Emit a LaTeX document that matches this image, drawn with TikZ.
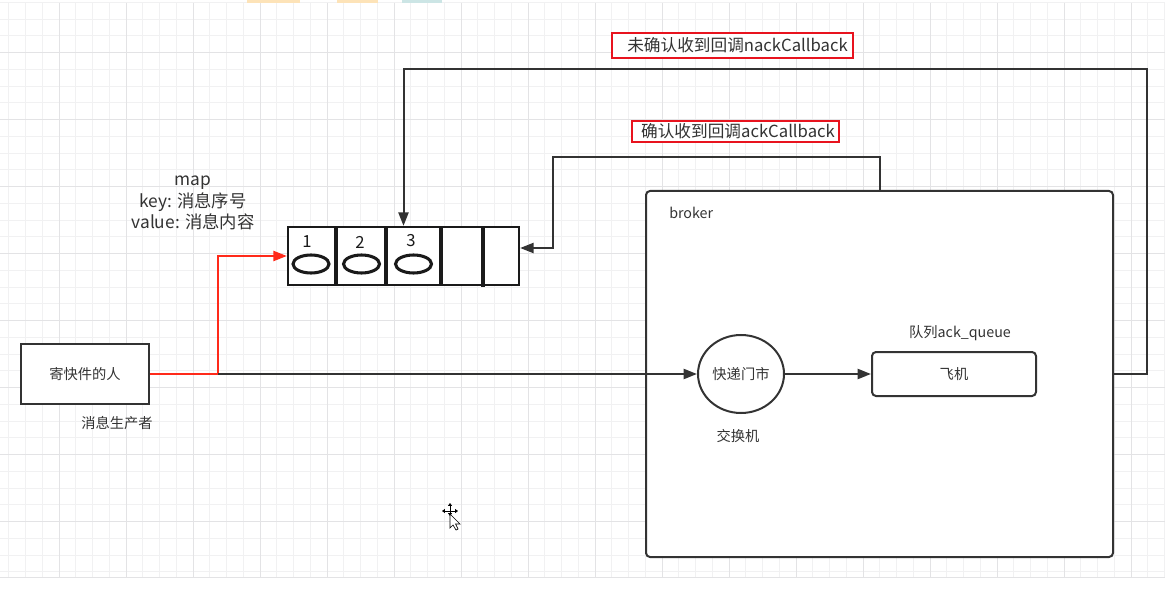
\documentclass[tikz,border=0pt]{standalone}
\usepackage{fontspec}
\setmainfont{Noto Sans CJK SC}
\usepackage{xcolor}
\usetikzlibrary{arrows.meta,shapes.geometric}
\definecolor{ackline}{HTML}{333333}
\definecolor{ackqueue}{HTML}{1A1A1A}
\definecolor{ackred}{HTML}{E8131E}
\definecolor{ackredline}{HTML}{FF2A1A}
\definecolor{acktext}{HTML}{333333}
\definecolor{gridminor}{HTML}{F1F1F2}
\definecolor{gridmajor}{HTML}{E3E3E5}
\newcommand{\ackfont}[1]{\fontsize{#1}{#1}\selectfont}

\begin{document}
\begin{tikzpicture}[
  x=0.75pt, y=-0.75pt,
  every node/.style={text=acktext, font=\ackfont{10.7}},
  txt/.style={inner sep=0pt},
  box/.style={draw=ackline, line width=1.5pt, fill=white, inner sep=0pt},
  roundbox/.style={box, rounded corners=3pt},
  hub/.style={box, ellipse, minimum width=64.5pt, minimum height=58.5pt},
  mapbox/.style={draw=ackqueue, line width=1.8pt, fill=white, inner sep=0pt,
                 minimum width=173.25pt, minimum height=43.5pt},
  slot/.style={draw=ackqueue, line width=2.5pt},
  slotmsg/.style={draw=ackqueue, line width=2.3pt, ellipse, inner sep=0pt,
                  minimum width=27pt, minimum height=13.5pt},
  numtxt/.style={txt, text=ackqueue, font=\ackfont{12.5}},
  cblabel/.style={draw=ackred, line width=1.5pt, fill=white, inner sep=0pt,
                  font=\ackfont{12.5}},
  arrow/.style={-{Triangle[length=10pt,width=7.5pt]}, line width=1.5pt, draw=ackline},
  redarrow/.style={arrow, draw=ackredline}
]
  \useasboundingbox (0,0) rectangle (1174,602);
  \fill[white] (0,0) rectangle (1174,602);

  % background grid
  \foreach \k in {1,...,70} {
    \pgfmathsetmacro{\gx}{-8+16.75*\k}
    \draw[gridminor, line width=0.75pt] (\gx,3) -- (\gx,577);
  }
  \foreach \k in {1,...,35} {
    \pgfmathsetmacro{\gy}{-14.3+16.75*\k}
    \draw[gridminor, line width=0.75pt] (0,\gy) -- (1165,\gy);
  }
  \foreach \k in {1,...,17} {
    \pgfmathsetmacro{\gx}{-8+67*\k}
    \draw[gridmajor, line width=0.75pt] (\gx,3) -- (\gx,577);
  }
  \foreach \k in {1,...,8} {
    \pgfmathsetmacro{\gy}{-14.3+67*\k}
    \draw[gridmajor, line width=0.75pt] (0,\gy) -- (1165,\gy);
  }
  \draw[gridmajor, line width=0.75pt] (0,577) -- (1165,577);

  % toolbar remnants at the top
  \fill[yellow!20!orange!25] (247,0) rectangle (300,3);
  \fill[yellow!20!orange!25] (337,0) rectangle (378,3);
  \fill[teal!20] (402,0) rectangle (442,3);

  % producer
  \node[box, minimum width=96pt, minimum height=45pt] (sender) at (85,374) {寄快件的人};
  \node[txt] (senderlbl) at (117,423) {消息生产者};

  % map of unconfirmed messages
  \node[txt, align=center, font=\fontsize{13}{16}\selectfont] (maplbl) at (193,203)
    {map\\key: 消息序号\\value: 消息内容};
  \node[mapbox] (mapq) at (403.5,256) {};
  \draw[slot] (336,227) -- (336,285);
  \draw[slot] (386,227) -- (386,285);
  \draw[slot] (441,227) -- (441,285);
  \draw[slot] (483,227) -- (483,287);
  \node[slotmsg] (m1) at (311,264) {};
  \node[slotmsg] (m2) at (361.5,264) {};
  \node[slotmsg] (m3) at (413.5,264) {};
  \node[numtxt] (n1) at (307,242) {1};
  \node[numtxt] (n2) at (360,242) {2};
  \node[numtxt] (n3) at (411,241) {3};

  % broker
  \node[roundbox, minimum width=350.25pt, minimum height=274.5pt] (broker) at (879.5,374) {};
  \node[txt, anchor=west] (brokerlbl) at (669,213) {broker};
  \node[hub] (hub) at (741,374) {快递门市};
  \node[txt] (hublbl) at (738,436) {交换机};
  \node[roundbox, minimum width=123pt, minimum height=33pt] (plane) at (954,374) {飞机};
  \node[txt] (planelbl) at (960,333) {队列ack\_queue};

  % callback labels
  \node[cblabel, minimum width=180.75pt, minimum height=18.75pt] (nacklbl) at (732.5,45.5)
    {\hspace*{7.5pt}未确认收到回调nackCallback};
  \node[cblabel, minimum width=155.25pt, minimum height=15.75pt] (acklbl) at (735.5,131.5)
    {\hspace*{3.75pt}确认收到回调ackCallback};

  % connectors
  \coordinate (split) at (218,374);
  \draw[redarrow] (sender.east) -- (split) |- (mapq.west);
  \draw[arrow] (split) -- (hub.west);
  \draw[arrow] (hub) -- (plane);
  \draw[arrow] (broker.north) |- (553,157) |- ([yshift=6pt]mapq.east);
  \draw[arrow] (broker.east) -| (1147,69) -| (mapq.north);

  % mouse cursor
  \begin{scope}[shift={(450,511)}, line width=0.6pt,
                tip/.style={-{Triangle[length=2.2pt,width=3pt]}}]
    \draw[tip] (0,0) -- (-8,0);
    \draw[tip] (0,0) -- (8,0);
    \draw[tip] (0,0) -- (0,-8);
    \draw[tip] (0,0) -- (0,5);
    \draw[fill=white, line width=0.5pt] (0,3) -- (0,17) -- (3,14) -- (6,19)
      -- (8,18) -- (5.5,13) -- (10,13) -- cycle;
  \end{scope}
\end{tikzpicture}
\end{document}
